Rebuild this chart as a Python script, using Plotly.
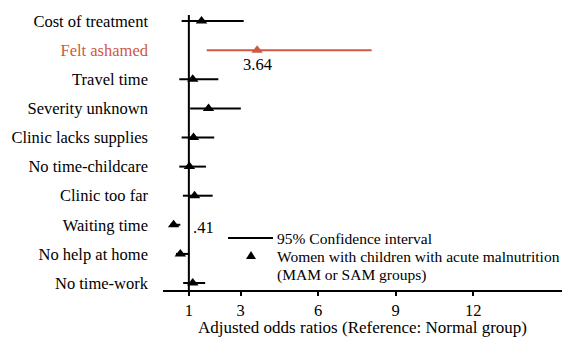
import plotly.graph_objects as go

categories = ["Cost of treatment", "Felt ashamed", "Travel time", "Severity unknown",
              "Clinic lacks supplies", "No time-childcare", "Clinic too far",
              "Waiting time", "No help at home", "No time-work"]
odds_ratio = [1.49, 3.64, 1.15, 1.76, 1.18, 1.02, 1.22, 0.41, 0.67, 1.15]
ci_low = [0.72, 1.69, 0.63, 1.05, 0.72, 0.63, 0.77, 0.28, 0.50, 0.78]
ci_high = [3.12, 8.07, 2.14, 3.01, 1.98, 1.66, 1.92, 0.67, 1.02, 1.63]
highlight = ["Felt ashamed"]
value_labels = {"Felt ashamed": "3.64", "Waiting time": ".41"}
x_ticks = [1, 3, 6, 9, 12]
legend_texts = ["95% Confidence interval",
                "Women with children with acute malnutrition",
                "(MAM or SAM groups)"]

RED = "#CF5844"
BLACK = "#000000"
FONT = "Times New Roman, Liberation Serif, serif"

fig = go.Figure()

# CI segments
xs, ys, xr, yr = [], [], [], []
for c, lo, hi in zip(categories, ci_low, ci_high):
    if c in highlight:
        xr += [lo, hi, None]
        yr += [c, c, None]
    else:
        xs += [lo, hi, None]
        ys += [c, c, None]

fig.add_trace(go.Scatter(x=xs, y=ys, mode="lines", line=dict(color=BLACK, width=2),
                         showlegend=False, hoverinfo="skip"))
fig.add_trace(go.Scatter(x=xr, y=yr, mode="lines", line=dict(color=RED, width=2),
                         showlegend=False, hoverinfo="skip"))
fig.add_trace(go.Scatter(x=odds_ratio, y=categories, mode="markers", showlegend=False,
                         marker=dict(symbol="triangle-up", size=10,
                                     color=[RED if c in highlight else BLACK for c in categories])))

# reference line at OR = 1
fig.add_shape(type="line", xref="x", yref="paper", x0=1, x1=1, y0=0, y1=1,
              line=dict(color=BLACK, width=2), layer="below")

# value labels
for c, txt in value_labels.items():
    i = categories.index(c)
    if c == "Felt ashamed":
        fig.add_annotation(x=odds_ratio[i], y=c, text=txt, showarrow=False,
                           yshift=-14, font=dict(size=16.5, color=BLACK, family=FONT))
    else:
        fig.add_annotation(x=1, y=c, text=txt, showarrow=False, xanchor="left",
                           xshift=2, yshift=-3, font=dict(size=16.5, color=BLACK, family=FONT))

# manual legend (paper coordinates)
fig.add_shape(type="line", xref="paper", yref="paper", x0=0.163, x1=0.2757, y0=0.189, y1=0.189,
              line=dict(color=BLACK, width=2))
fig.add_shape(type="path", xref="paper", yref="paper",
              path="M 0.2080 0.1127 L 0.2331 0.1127 L 0.2206 0.1418 Z",
              fillcolor=BLACK, line=dict(color=BLACK, width=0))
for txt, yy in zip(legend_texts, [0.189, 0.1236, 0.0545]):
    fig.add_annotation(xref="paper", yref="paper", x=0.281, y=yy, text=txt, showarrow=False,
                       xanchor="left", yanchor="middle",
                       font=dict(size=15.5, color=BLACK, family=FONT))

ticktext = [f'<span style="color:{RED}">{c}</span>' if c in highlight else c for c in categories]

fig.update_layout(
    width=562, height=337,
    margin=dict(l=163, r=0, t=15, b=47),
    paper_bgcolor="white", plot_bgcolor="white",
    font=dict(family=FONT, size=16.5, color=BLACK),
    showlegend=False,
    xaxis=dict(range=[0, 15.43], tickvals=x_ticks, ticktext=[str(t) for t in x_ticks],
               showgrid=False, zeroline=False, showline=True, linecolor=BLACK, linewidth=2,
               ticks="outside", ticklen=4, tickwidth=2, tickcolor=BLACK,
               tickfont=dict(size=16.5, family=FONT),
               title=dict(text="Adjusted odds ratios (Reference: Normal group)",
                          font=dict(size=17, family=FONT), standoff=5)),
    yaxis=dict(categoryorder="array", categoryarray=categories, tickvals=categories,
               ticktext=ticktext, range=[9.24, -0.21], showgrid=False, zeroline=False,
               showline=False, ticks="", ticklabelstandoff=14,
               tickfont=dict(size=16.5, family=FONT)),
)

fig.write_html("out.html")
